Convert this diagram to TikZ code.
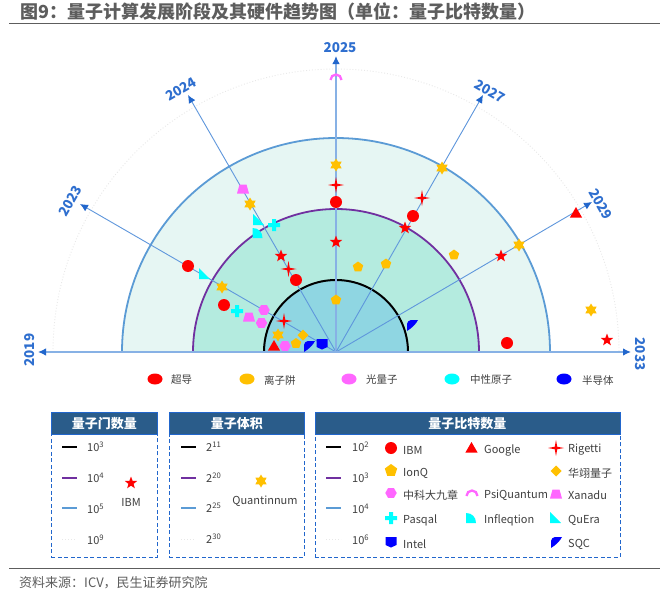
\documentclass[tikz,border=0pt]{standalone}
\usepackage{fontspec}
\setmainfont{Noto Sans CJK SC}
\usetikzlibrary{shapes.geometric,arrows.meta}
\definecolor{axisb}{HTML}{5F97DC}
\definecolor{tipb}{HTML}{2166CC}
\definecolor{labb}{HTML}{2F6FCF}
\definecolor{rr}{HTML}{FF0000}
\definecolor{yy}{HTML}{FFC000}
\definecolor{pp}{HTML}{FF66FF}
\definecolor{cc}{HTML}{00FFFF}
\definecolor{bb}{HTML}{0000FF}
\definecolor{lpur}{HTML}{7030A0}
\definecolor{lblu}{HTML}{5B9BD5}
\definecolor{lgry}{HTML}{E8E8E8}
\definecolor{hdr}{HTML}{2A5C8A}
\definecolor{txt}{HTML}{404040}
\definecolor{f1}{HTML}{8FD6E2}
\definecolor{f2}{HTML}{B4EBDF}
\definecolor{f3}{HTML}{E6F6F3}
\newcounter{mk}
\newcommand{\mk}[3]{\stepcounter{mk}\node[#1] (m\themk) at (#2,#3) {};}
\newcommand{\pk}[3]{\stepcounter{mk}\pic (m\themk) at (#2,#3) {#1};}
\tikzset{
 x=1pt,y=-1pt,
 mark base/.style={inner sep=0pt,outer sep=0pt,draw=none},
 ibm/.style={mark base,circle,fill=rr,minimum size=12pt},
 redstar/.style={mark base,star,star points=5,star point ratio=2.4,fill=rr,minimum size=13pt},
 rig/.style={mark base,star,star points=4,star point ratio=4.5,fill=rr,minimum size=16pt},
 goog/.style={mark base,regular polygon,regular polygon sides=3,fill=rr,minimum size=14pt},
 six/.style={mark base,star,star points=6,star point ratio=1.7,fill=yy,minimum size=13pt},
 pent/.style={mark base,regular polygon,regular polygon sides=5,fill=yy,minimum size=11pt},
 dia/.style={mark base,diamond,fill=yy,minimum size=11pt},
 hexa/.style={mark base,regular polygon,regular polygon sides=6,fill=pp,minimum size=11.5pt},
 trapm/.pic={\fill[pp] (-6,4.5) -- (-3.5,-4.5) -- (3.5,-4.5) -- (6,4.5) -- cycle;},
 plusm/.pic={\fill[cc] (-6,-2) rectangle (6,2) (-2,-6) rectangle (2,6);},
 infl/.pic={\fill[cc] (-5,5) -- (-5,-5) .. controls (1,-5) and (5,-1) .. (5,5) -- cycle;},
 quera/.pic={\fill[cc] (-5,5) -- (-5,-6) -- (6,5) -- cycle;},
 intelm/.pic={\fill[bb] (-5.5,-5) -- (5.5,-5) -- (5.5,3) -- (0,5.5) -- (-5.5,3) -- cycle;},
 sqcm/.pic={\fill[bb] (-5,6) -- (-5,-1) .. controls (-5,-3) and (-3,-5) .. (-1,-5) -- (6,-5) .. controls (4,-1) and (0,3) .. (-5,6) -- cycle;},
 psi/.pic={\draw[pp,line width=2.3pt] (-5.5,3) arc[start angle=180,end angle=360,radius=5.5];},
 axislab/.style={text=labb,font=\bfseries\fontsize{13.5}{13.5}\selectfont,inner sep=0pt},
 axisline/.style={draw=axisb,line width=.9pt,-{Latex[length=8pt,width=7.5pt,color=tipb]}},
 leglab/.style={text=txt,font=\fontsize{11}{12}\selectfont,inner sep=0pt,anchor=west},
 toplab/.style={text=txt,font=\fontsize{10.5}{12}\selectfont,inner sep=0pt,anchor=west},
 hdrbox/.style={fill=hdr,draw=tipb,line width=.6pt,text=white,font=\bfseries\fontsize{13}{13}\selectfont,inner sep=0pt,anchor=north west,minimum height=22pt},
 dashbox/.style={draw=tipb,dashed,line width=.9pt,dash pattern=on 4pt off 2.5pt,inner sep=0pt,anchor=north west},
 blob/.style={mark base,ellipse,minimum width=15pt,minimum height=11pt},
}
\newcommand{\keyrows}[2]{% x of line start, x of text
 \coordinate (ka) at (#1,447); \coordinate (kb) at (#1+15,447);
 \draw[black,line width=1.6pt] (ka) -- (kb);
 \coordinate (kc) at (#1,478); \coordinate (kd) at (#1+15,478);
 \draw[lpur,line width=1.6pt] (kc) -- (kd);
 \coordinate (ke) at (#1,508); \coordinate (kf) at (#1+15,508);
 \draw[lblu,line width=1.6pt] (ke) -- (kf);
 \coordinate (kg) at (#1,539); \coordinate (kh) at (#1+15,539);
 \draw[lgry,line width=1pt,dotted] (kg) -- (kh);
}
\begin{document}
\begin{tikzpicture}
\useasboundingbox (0,0) rectangle (665,597);
\fill[white] (0,0) rectangle (665,597);
% title
\node[anchor=west,inner sep=0pt,text=txt!85!white,font=\bfseries\fontsize{18}{18}\selectfont] (title) at (20,12) {图9^^^^ff1a量子计算发展阶段及其硬件趋势图^^^^ff08单位^^^^ff1a量子比特数量^^^^ff09};
\coordinate (tl) at (9,23); \coordinate (tr) at (660,23);
\draw[txt!85!white,line width=.9pt] (tl) -- (tr);
\coordinate (o) at (336,352);
% sectors
\fill[f3] (122,352) arc[start angle=180,end angle=360,radius=214] -- cycle;
\fill[f2] (193,352) arc[start angle=180,end angle=360,radius=143] -- cycle;
\fill[f1] (264,352) arc[start angle=180,end angle=360,radius=72] -- cycle;
\draw[lgry,line width=.9pt,dotted] (53,352) arc[start angle=180,end angle=360,radius=283];
\draw[lblu,line width=1.8pt] (122,352) arc[start angle=180,end angle=360,radius=214];
\draw[lpur,line width=1.8pt] (193,352) arc[start angle=180,end angle=360,radius=143];
\draw[black,line width=2pt] (264,352) arc[start angle=180,end angle=360,radius=72];
% axes
\coordinate (t2019) at (38,352);
\coordinate (t2023) at (80,204);
\coordinate (t2024) at (188,95);
\coordinate (t2025) at (336,56);
\coordinate (t2027) at (483,95);
\coordinate (t2029) at (592,202);
\coordinate (t2033) at (631,352);
\draw[axisline] (o) -- (t2023);
\draw[axisline] (o) -- (t2024);
\draw[axisline,line width=1.3pt,draw=axisb!75!white] (o) -- (t2025);
\draw[axisline] (o) -- (t2027);
\draw[axisline] (o) -- (t2029);
\draw[axisline,line width=1.3pt,draw=axisb!75!white] (o) -- (t2019);
\draw[axisline,line width=1.3pt,draw=axisb!75!white] (o) -- (t2033);
\node[axislab,rotate=90] (y2019) at (30,350) {2019};
\node[axislab,rotate=60] (y2023) at (70,201) {2023};
\node[axislab,rotate=30] (y2024) at (181,89) {2024};
\node[axislab] (y2025) at (340,48) {2025};
\node[axislab,rotate=-30] (y2027) at (490,91) {2027};
\node[axislab,rotate=-60] (y2029) at (601,204) {2029};
\node[axislab,rotate=-90] (y2033) at (640,354) {2033};
% data markers
\pk{trapm}{243}{189}
\mk{six}{250}{204}
\pk{quera}{258}{220}
\pk{plusm}{274}{225}
\pk{infl}{257.5}{233}
\mk{redstar}{281}{256}
\mk{rig}{288.5}{269}
\mk{ibm}{296}{280}
\mk{ibm}{188}{266}
\pk{quera}{204}{274}
\mk{six}{222}{287}
\mk{ibm}{224}{305}
\pk{plusm}{237}{311}
\pk{trapm}{249}{317}
\mk{hexa}{264}{310}
\mk{hexa}{261.5}{323}
\mk{rig}{284}{321}
\mk{six}{278}{335}
\mk{dia}{303}{335}
\mk{goog}{274}{347}
\mk{hexa}{285}{346}
\mk{pent}{296}{343.5}
\pk{sqcm}{309}{346}
\pk{intelm}{322}{344}
\mk{pent}{336}{300}
\mk{redstar}{336}{242}
\mk{ibm}{336}{202}
\mk{rig}{336}{185}
\mk{six}{336}{165}
\pk{psi}{336}{77}
\mk{six}{442}{168}
\mk{rig}{422}{198}
\mk{ibm}{413}{216}
\mk{redstar}{405}{228}
\mk{pent}{386}{264}
\mk{pent}{358}{267}
\mk{pent}{454}{255}
\mk{redstar}{501}{256}
\mk{six}{519}{245}
\mk{goog}{576}{214}
\mk{six}{591}{310}
\mk{redstar}{607}{340}
\mk{ibm}{507}{343}
\pk{sqcm}{412}{325}
% family legend
\node[blob,fill=rr] (b1) at (155,379) {};
\node[toplab] (l1) at (171,380) {超导};
\node[blob,fill=yy] (b2) at (247,379) {};
\node[toplab] (l2) at (264,380) {离子阱};
\node[blob,fill=pp] (b3) at (349,379) {};
\node[toplab] (l3) at (366,380) {光量子};
\node[blob,fill=cc] (b4) at (452,379) {};
\node[toplab] (l4) at (470,380) {中性原子};
\node[blob,fill=bb] (b5) at (564,379) {};
\node[toplab] (l5) at (582,380) {半导体};
% panels
\node[dashbox,minimum width=106pt,minimum height=145pt] (p1) at (51,412) {};
\node[hdrbox,minimum width=106pt] (h1) at (51,412) {量子门数量};
\node[dashbox,minimum width=135pt,minimum height=145pt] (p2) at (169,412) {};
\node[hdrbox,minimum width=135pt] (h2) at (169,412) {量子体积};
\node[dashbox,minimum width=305pt,minimum height=145pt] (p3) at (314.5,412) {};
\node[hdrbox,minimum width=305pt] (h3) at (314.5,412) {量子比特数量};
% panel 1
\keyrows{62}{87}
\node[leglab] (a1) at (87,447) {10\textsuperscript{3}};
\node[leglab] (a2) at (87,478) {10\textsuperscript{4}};
\node[leglab] (a3) at (87,509) {10\textsuperscript{5}};
\node[leglab] (a4) at (87,540) {10\textsuperscript{9}};
\mk{redstar}{131}{483}
\node[leglab,anchor=center] (a5) at (131,502) {IBM};
% panel 2
\keyrows{181}{206}
\node[leglab] (c1) at (206,447) {2\textsuperscript{11}};
\node[leglab] (c2) at (206,478) {2\textsuperscript{20}};
\node[leglab] (c3) at (206,508) {2\textsuperscript{25}};
\node[leglab] (c4) at (206,539) {2\textsuperscript{30}};
\mk{six}{261}{481}
\node[leglab,anchor=center] (c5) at (265,501) {Quantinnum};
% panel 3
\keyrows{326}{352}
\node[leglab] (d1) at (352,447) {10\textsuperscript{2}};
\node[leglab] (d2) at (352,478) {10\textsuperscript{3}};
\node[leglab] (d3) at (352,509) {10\textsuperscript{4}};
\node[leglab] (d4) at (352,540) {10\textsuperscript{6}};
\mk{ibm}{391}{448}
\node[leglab] (e1) at (403,450) {IBM};
\mk{goog}{471.5}{449}
\node[leglab] (e2) at (484,450) {Google};
\mk{rig}{556}{448}
\node[leglab] (e3) at (568,450) {Rigetti};
\mk{pent,minimum size=13pt}{391}{470.5}
\node[leglab] (e4) at (403,473.5) {IonQ};
\mk{dia}{556}{471}
\node[leglab] (e5) at (568,473.5) {华翊量子};
\mk{hexa}{391}{493}
\node[leglab] (e6) at (403,495.5) {中科大九章};
\pk{psi}{472}{493}
\node[leglab] (e7) at (484,495.5) {PsiQuantum};
\pk{trapm}{556}{494}
\node[leglab] (e8) at (568,495.5) {Xanadu};
\pk{plusm}{391}{518}
\node[leglab] (e9) at (403,520.5) {Pasqal};
\pk{infl}{471}{518}
\node[leglab] (e10) at (484,520.5) {Infleqtion};
\pk{quera}{555}{518}
\node[leglab] (e11) at (568,520.5) {QuEra};
\pk{intelm}{391}{542}
\node[leglab] (e12) at (403,544.5) {Intel};
\pk{sqcm}{556}{542}
\node[leglab] (e13) at (568,544.5) {SQC};
% footer
\coordinate (fl) at (9,568); \coordinate (fr) at (660,568);
\draw[txt!85!white,line width=.9pt] (fl) -- (fr);
\node[anchor=west,inner sep=0pt,text=txt!85!white,font=\fontsize{13}{13}\selectfont] (src) at (19,583) {资料来源^^^^ff1aICV^^^^ff0c民生证券研究院};
\end{tikzpicture}
\end{document}
